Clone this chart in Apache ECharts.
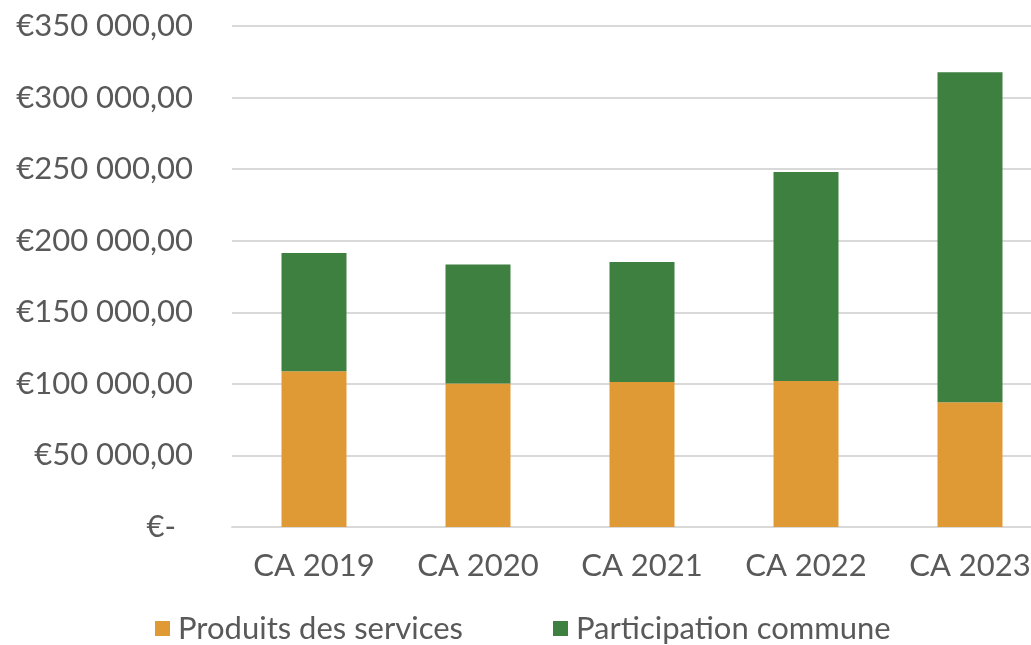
<!DOCTYPE html>
<html>
<head>
<meta charset="utf-8">
<script src="https://cdn.jsdelivr.net/npm/echarts@6/dist/echarts.min.js"></script>
<style>
  html, body { margin: 0; padding: 0; background: #fff; }
  #main { width: 1031px; height: 645px; }
</style>
</head>
<body>
<div id="main"></div>
<script>
// données
const categories = ["CA 2019", "CA 2020", "CA 2021", "CA 2022", "CA 2023"];
const produitsServices = [108800, 100200, 101300, 102000, 87100];
const participationCommune = [82600, 83100, 83800, 146000, 230600];
const seriesNames = ["Produits des services", "Participation commune"];

const FONT = "Lato";
const TEXT = "#595959";
const FS = 31;

const chart = echarts.init(document.getElementById("main"));

// format comptable : €350 000,00 / €-
const fmtEuro = v => {
    if (v === 0) return "{z|€-}";
    const s = String(Math.round(v)).replace(/\B(?=(\d{3})+(?!\d))/g, " ");
    return "€" + s + ",00";
};

const legendText = { color: TEXT, fontFamily: FONT, fontSize: FS, padding: [0, 0, 0, 3] };

const option = {
    backgroundColor: "#fff",
    animation: false,
    // le graphique d'origine est coupé à droite
    grid: { left: 232, width: 820, top: 26, bottom: 118, outerBoundsMode: "none", containLabel: false },
    legend: [
        {
            data: [seriesNames[0]],
            left: 150, top: 608,
            icon: "rect", itemWidth: 15, itemHeight: 15,
            textStyle: legendText
        },
        {
            data: [seriesNames[1]],
            left: 548, top: 608,
            icon: "rect", itemWidth: 15, itemHeight: 15,
            textStyle: legendText
        }
    ],
    xAxis: {
        type: "category",
        data: categories,
        axisLine: { lineStyle: { color: "#d9d9d9", width: 2 } },
        axisTick: { show: false },
        axisLabel: { color: TEXT, fontFamily: FONT, fontSize: FS, margin: 23 }
    },
    yAxis: {
        type: "value",
        min: 0,
        max: 350000,
        interval: 50000,
        axisLine: { show: false },
        axisTick: { show: false },
        splitLine: { lineStyle: { color: "#d9d9d9", width: 2 } },
        axisLabel: {
            color: TEXT, fontFamily: FONT, fontSize: FS, margin: 39,
            formatter: fmtEuro,
            rich: { z: { color: TEXT, fontFamily: FONT, fontSize: FS, padding: [0, 17, 0, 0] } }
        }
    },
    series: [
        {
            name: seriesNames[0],
            type: "bar",
            stack: "total",
            barWidth: 65,
            itemStyle: { color: "#e09a35" },
            data: produitsServices
        },
        {
            name: seriesNames[1],
            type: "bar",
            stack: "total",
            barWidth: 65,
            itemStyle: { color: "#3d8040" },
            data: participationCommune
        }
    ]
};

chart.setOption(option);
</script>
</body>
</html>
